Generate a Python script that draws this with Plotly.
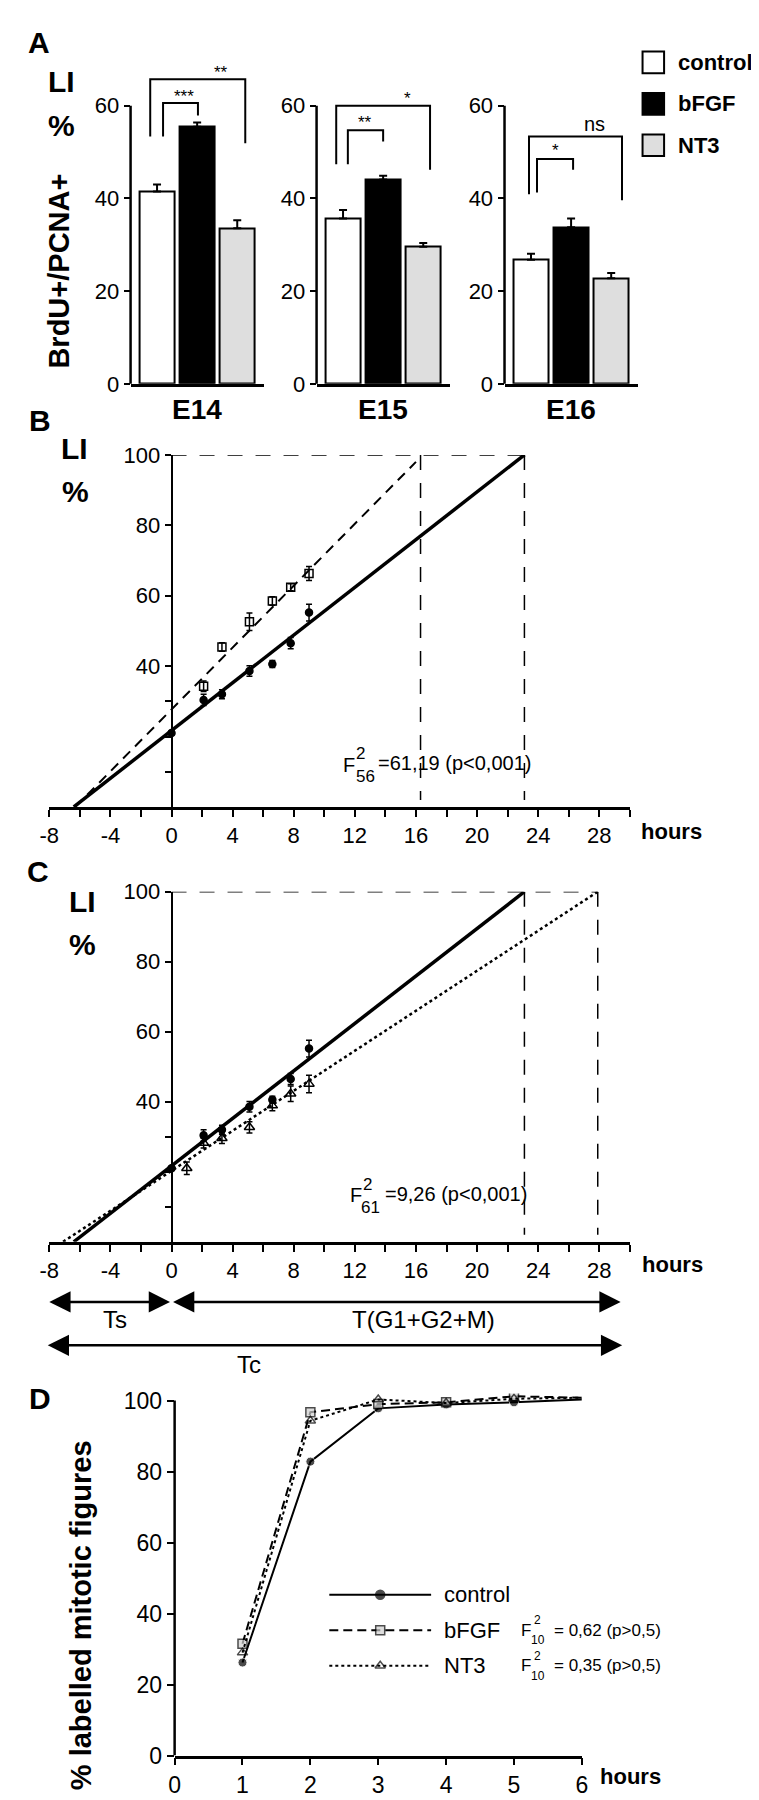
import plotly.graph_objects as go

W, H = 759, 1800
FONT = "Liberation Sans, Arial, Helvetica, sans-serif"

# ---------------- data ----------------
# Panel A: labelling index (BrdU+/PCNA+) per embryonic age
ages = ["E14", "E15", "E16"]
treatments = ["control", "bFGF", "NT3"]
li_control = [41.5, 35.7, 26.8]
li_bfgf = [55.5, 44.1, 33.8]
li_nt3 = [33.6, 29.6, 22.8]
sem_control = [1.5, 1.8, 1.3]
sem_bfgf = [0.9, 0.8, 1.9]
sem_nt3 = [1.7, 0.8, 1.1]
sig_inner = ["***", "**", "*"]
sig_outer = ["**", "*", "ns"]

# Panels B / C: cumulative labelling
time_control = [0.0, 2.1, 3.3, 5.1, 6.6, 7.8, 9.0]
li_t_control = [21.0, 30.4, 32.0, 38.6, 40.6, 46.5, 55.2]
err_t_control = [0.6, 1.6, 1.3, 1.5, 1.0, 1.6, 2.4]
time_bfgf = [2.1, 3.3, 5.1, 6.6, 7.8, 9.0]
li_t_bfgf = [34.3, 45.4, 52.6, 58.5, 62.4, 66.3]
err_t_bfgf = [1.5, 1.2, 2.5, 1.2, 1.0, 2.0]
time_nt3 = [1.0, 2.1, 3.3, 5.1, 6.6, 7.8, 9.0]
li_t_nt3 = [21.0, 28.2, 29.6, 32.7, 38.9, 42.3, 45.1]
err_t_nt3 = [1.8, 1.4, 1.5, 1.6, 1.5, 2.2, 2.5]

fit_control_x = [-6.4, 23.1]
fit_control_y = [0, 100]
fit_bfgf_x = [-6.3, 16.0]
fit_bfgf_y = [0, 98]
fit_nt3_x = [-7.1, 27.9]
fit_nt3_y = [0, 100]
tc_marks_b = [16.3, 23.1]
tc_marks_c = [23.1, 27.9]
x_ticks_bc = list(range(-8, 31, 2))
x_ticktext_bc = [str(v) if v % 4 == 0 and v < 30 else "" for v in x_ticks_bc]
y_ticks_bc = [10, 20, 30, 40, 60, 80, 100]
y_ticktext_bc = ["", "", "", "40", "60", "80", "100"]

# Panel D: percent labelled mitoses
hours_d = [1, 2, 3, 4, 5, 6]
plm_control = [26.2, 82.8, 97.8, 98.9, 99.5, 100.3]
plm_bfgf = [31.5, 96.7, 99.0, 99.5, 101.2, 100.8]
plm_nt3 = [29.0, 94.3, 100.3, 99.3, 100.5, 100.8]

# ---------------- helpers ----------------
def PX(x):
    return x / W

def PY(y):
    return 1 - y / H

fig = go.Figure()
annotations = []
shapes = []

def txt(x, y, s, size, bold=False, xanchor="center", yanchor="middle", angle=0,
        xref="paper", yref="paper"):
    annotations.append(dict(
        x=x, y=y, xref=xref, yref=yref, text=("<b>%s</b>" % s) if bold else s,
        showarrow=False, xanchor=xanchor, yanchor=yanchor, textangle=angle,
        font=dict(family=FONT, size=size, color="black")))

# ---------------- Panel A ----------------
a_dom_x = [(115, 251), (305, 441), (497, 633)]
a_rng_x = [-0.66, 2.66]
a_rng_y = [0, 70]
a_dom_y = [PY(369), PY(369 - 70 * 4.7)]
bar_colors = ["white", "black", "#dedede"]
brackets = [
    [(0.15, 1.02, 60.6, 53.4, 57.9, 0.68, 62.0), (-0.17, 2.20, 65.7, 53.4, 51.9, 1.59, 67.2)],
    [(0.12, 1.00, 54.7, 47.4, 52.3, 0.56, 56.4), (-0.17, 2.17, 60.0, 47.4, 46.2, 1.61, 61.6)],
    [(0.15, 1.05, 48.5, 41.3, 46.2, 0.61, 50.3), (-0.05, 2.27, 53.4, 40.9, 39.6, 1.59, 56.0)],
]
for i in range(3):
    xa = "x" if i == 0 else "x%d" % (i + 1)
    ya = "y" if i == 0 else "y%d" % (i + 1)
    vals = [li_control[i], li_bfgf[i], li_nt3[i]]
    errs = [sem_control[i], sem_bfgf[i], sem_nt3[i]]
    fig.add_trace(go.Bar(
        x=[0, 1, 2], y=vals, width=0.88, xaxis=xa, yaxis=ya,
        marker=dict(color=bar_colors, line=dict(color="black", width=2)),
        error_y=dict(type="data", array=errs, arrayminus=[0, 0, 0], symmetric=False,
                     color="black", thickness=2, width=4),
        showlegend=False, hoverinfo="skip"))
    key = "" if i == 0 else str(i + 1)
    fig.layout["xaxis" + key] = dict(
        domain=[PX(a_dom_x[i][0]), PX(a_dom_x[i][1])], range=a_rng_x, anchor=ya,
        showline=True, linecolor="black", linewidth=2.5, ticks="", showticklabels=False,
        showgrid=False, zeroline=False, fixedrange=True)
    fig.layout["yaxis" + key] = dict(
        domain=a_dom_y, range=a_rng_y, anchor=xa, tickvals=[0, 20, 40, 60],
        ticks="outside", ticklen=6, tickwidth=2, tickcolor="black", showline=False,
        showgrid=False, zeroline=False, tickfont=dict(family=FONT, size=22, color="black"))
    shapes.append(dict(type="line", xref=xa + " domain", yref=ya, x0=0, x1=0, y0=0, y1=60,
                       line=dict(color="black", width=2.5)))
    for (x0, x1, yt, yl, yr, lx, ly), lab in zip(brackets[i], [sig_inner[i], sig_outer[i]]):
        shapes.append(dict(type="path", xref=xa, yref=ya,
                           path="M %g,%g L %g,%g L %g,%g L %g,%g" % (x0, yl, x0, yt, x1, yt, x1, yr),
                           line=dict(color="black", width=2)))
        txt(lx, ly, lab, 20 if lab == "ns" else 17, xref=xa, yref=ya)
    txt(1, PY(395), ages[i], 28, bold=True, xref=xa)

txt(PX(8), PY(23), "A", 30, bold=True, xanchor="left")
txt(PX(44), PY(62), "LI", 30, bold=True)
txt(PX(44), PY(107), "%", 30, bold=True)
txt(PX(42), PY(255), "BrdU+/PCNA+", 29, bold=True, angle=-90)
for name, color, yc in zip(treatments, bar_colors, [43, 85, 127]):
    shapes.append(dict(type="rect", xref="paper", yref="paper", x0=PX(638), x1=PX(660),
                       y0=PY(yc + 11), y1=PY(yc - 11), fillcolor=color,
                       line=dict(color="black", width=2)))
    txt(PX(672), PY(yc), name, 22, bold=True, xanchor="left")

# ---------------- Panels B and C ----------------
bc_dom_x = [PX(32), PX(625)]
bc_rng_x = [-8, 30]
y0_axis_pos = bc_dom_x[0] + (0 - bc_rng_x[0]) / (bc_rng_x[1] - bc_rng_x[0]) * (bc_dom_x[1] - bc_dom_x[0])

def bc_axes(key, ydom):
    xa_name, ya_name = "x" + key, "y" + key
    fig.layout["xaxis" + key] = dict(
        domain=bc_dom_x, range=bc_rng_x, anchor=ya_name, showline=True, linecolor="black",
        linewidth=2.5, ticks="outside", ticklen=7, tickwidth=2, tickcolor="black",
        tickvals=x_ticks_bc, ticktext=x_ticktext_bc, showgrid=False, zeroline=False,
        tickfont=dict(family=FONT, size=22, color="black"))
    fig.layout["yaxis" + key] = dict(
        domain=ydom, range=[0, 100], anchor="free", position=y0_axis_pos, showline=True,
        linecolor="black", linewidth=2, ticks="outside", ticklen=6, tickwidth=1.5,
        tickcolor="black", tickvals=y_ticks_bc, ticktext=y_ticktext_bc, showgrid=False,
        zeroline=False, tickfont=dict(family=FONT, size=22, color="black"))
    return xa_name, ya_name

def guides(xa, ya, marks):
    shapes.append(dict(type="line", xref=xa, yref=ya, x0=0, x1=max(marks), y0=100, y1=100,
                       line=dict(color="black", width=1.5, dash="15px,13px")))
    for m in marks:
        shapes.append(dict(type="line", xref=xa, yref=ya, x0=m, x1=m, y0=100, y1=2,
                           line=dict(color="black", width=1.5, dash="15px,13px")))

def points(xa, ya, t, v, e, symbol, fill, size):
    fig.add_trace(go.Scatter(
        x=t, y=v, mode="markers", xaxis=xa, yaxis=ya, showlegend=False, hoverinfo="skip",
        marker=dict(symbol=symbol, size=size, color=fill, line=dict(color="black", width=1.5)),
        error_y=dict(type="data", array=e, color="black", thickness=1.5, width=3)))

def fitline(xa, ya, fx, fy, width, dash):
    fig.add_trace(go.Scatter(x=fx, y=fy, mode="lines", xaxis=xa, yaxis=ya, showlegend=False,
                             hoverinfo="skip", line=dict(color="black", width=width, dash=dash)))

# Panel B
xb, yb = bc_axes("4", [PY(798), PY(441)])
guides(xb, yb, tc_marks_b)
fitline(xb, yb, fit_control_x, fit_control_y, 3.5, "solid")
fitline(xb, yb, fit_bfgf_x, fit_bfgf_y, 2, "10px,7px")
points(xb, yb, time_control, li_t_control, err_t_control, "circle", "black", 7)
points(xb, yb, time_bfgf, li_t_bfgf, err_t_bfgf, "square-open", "black", 8)
txt(PX(22), PY(406), "B", 30, bold=True)
txt(PX(58), PY(435), "LI", 30, bold=True)
txt(PX(59), PY(478), "%", 30, bold=True)
txt(PX(668), PY(823), "hours", 22, bold=True)
txt(PX(330), PY(755), "F", 20, xanchor="left")
txt(PX(350), PY(744), "2", 17)
txt(PX(355), PY(767), "56", 17)
txt(PX(366), PY(753), "=61,19 (p&lt;0,001)", 20, xanchor="left")

# Panel C
xc, yc = bc_axes("5", [PY(1239), PY(884)])
guides(xc, yc, tc_marks_c)
fitline(xc, yc, fit_control_x, fit_control_y, 3.5, "solid")
fitline(xc, yc, fit_nt3_x, fit_nt3_y, 2.5, "dot")
points(xc, yc, time_control, li_t_control, err_t_control, "circle", "black", 7)
points(xc, yc, time_nt3, li_t_nt3, err_t_nt3, "triangle-up-open", "black", 9)
txt(PX(20), PY(863), "C", 30, bold=True)
txt(PX(66), PY(894), "LI", 30, bold=True)
txt(PX(66), PY(938), "%", 30, bold=True)
txt(PX(669), PY(1262), "hours", 22, bold=True)
txt(PX(337), PY(1192), "F", 20, xanchor="left")
txt(PX(357), PY(1181), "2", 17)
txt(PX(360), PY(1204), "61", 17)
txt(PX(373), PY(1191), "=9,26 (p&lt;0,001)", 20, xanchor="left")

# phase arrows below C
phase_arrows = [(-8.1, -0.1, 1300), (0.0, 29.4, 1300), (-8.2, 29.5, 1344)]
for xs, xe, yy in phase_arrows:
    annotations.append(dict(
        x=xe, y=PY(yy), xref=xc, yref="paper", ax=xs, ay=0, axref=xc, ayref="pixel",
        text="", showarrow=True, arrowside="end+start", arrowhead=2, startarrowhead=2,
        arrowsize=1.7, startarrowsize=1.7, arrowwidth=2.5, arrowcolor="black",
        standoff=0, startstandoff=0))
txt(-3.7, PY(1318), "Ts", 24, xref=xc)
txt(16.5, PY(1318), "T(G1+G2+M)", 24, xref=xc)
txt(5.1, PY(1363), "Tc", 24, xref=xc)

# ---------------- Panel D ----------------
xd, yd = "x6", "y6"
fig.layout["xaxis6"] = dict(
    domain=[PX(160), PX(576)], range=[0, 6], anchor=yd, showline=True, linecolor="black",
    linewidth=2.5, ticks="outside", ticklen=7, tickwidth=2, tickcolor="black",
    tickvals=[0, 1, 2, 3, 4, 5, 6], showgrid=False, zeroline=False,
    tickfont=dict(family=FONT, size=23, color="black"))
fig.layout["yaxis6"] = dict(
    domain=[PY(1760), PY(1760 - 102 * 3.6)], range=[0, 102], anchor=xd, showline=False,
    ticks="outside", ticklen=7, tickwidth=2, tickcolor="black",
    tickvals=[0, 20, 40, 60, 80, 100], showgrid=False, zeroline=False,
    tickfont=dict(family=FONT, size=23, color="black"))
shapes.append(dict(type="line", xref=xd + " domain", yref=yd, x0=0, x1=0, y0=0, y1=100,
                   line=dict(color="black", width=2.5)))
msize = [9, 9, 9, 9, 9, 0]
fig.add_trace(go.Scatter(x=hours_d, y=plm_control, mode="lines+markers", xaxis=xd, yaxis=yd,
                         line=dict(color="black", width=2), showlegend=False, hoverinfo="skip",
                         marker=dict(symbol="circle", size=msize, color="black")))
fig.add_trace(go.Scatter(x=hours_d, y=plm_bfgf, mode="lines+markers", xaxis=xd, yaxis=yd,
                         line=dict(color="black", width=2, dash="9px,5px"), showlegend=False,
                         hoverinfo="skip",
                         marker=dict(symbol="square", size=msize, color="#cfcfcf",
                                     line=dict(color="black", width=1.5))))
fig.add_trace(go.Scatter(x=hours_d, y=plm_nt3, mode="lines+markers", xaxis=xd, yaxis=yd,
                         line=dict(color="black", width=2, dash="dot"), showlegend=False,
                         hoverinfo="skip",
                         marker=dict(symbol="triangle-up-open", size=msize, color="black",
                                     line=dict(width=1.5))))
# manual legend
legend_rows = [
    ("control", "solid", "circle", "black", 1597, None),
    ("bFGF", "9px,5px", "square", "#cfcfcf", 1633, ("10", "= 0,62 (p&gt;0,5)")),
    ("NT3", "dot", "triangle-up-open", "black", 1669, ("10", "= 0,35 (p&gt;0,5)")),
]
for name, dash, sym, col, yy, ftxt in legend_rows:
    yv = (1760 - yy) / 3.6
    xs = [(318 - 160) / 69.33, (370 - 160) / 69.33, (422 - 160) / 69.33]
    fig.add_trace(go.Scatter(x=xs, y=[yv] * 3, mode="lines+markers", xaxis=xd, yaxis=yd,
                             showlegend=False, hoverinfo="skip",
                             line=dict(color="black", width=2, dash=dash),
                             marker=dict(symbol=sym, size=[0, 9, 0], color=col,
                                         line=dict(color="black", width=1.5))))
    txt(PX(433), PY(yy), name, 22, xanchor="left")
    if ftxt:
        txt(PX(512), PY(yy), "F", 17, xanchor="left")
        txt(PX(531), PY(yy - 10), "2", 12)
        txt(PX(531), PY(yy + 10), ftxt[0], 12)
        txt(PX(545), PY(yy), ftxt[1], 17, xanchor="left")

txt(PX(22), PY(1398), "D", 30, bold=True)
txt(PX(64), PY(1618), "% labelled mitotic figures", 29, bold=True, angle=-90)
txt(PX(626), PY(1781), "hours", 22, bold=True)

fig.update_layout(
    width=W, height=H, margin=dict(l=0, r=0, t=0, b=0, pad=0),
    paper_bgcolor="white", plot_bgcolor="white", showlegend=False,
    font=dict(family=FONT, color="black"), annotations=annotations, shapes=shapes,
    bargap=0)
fig.write_html("out.html")
